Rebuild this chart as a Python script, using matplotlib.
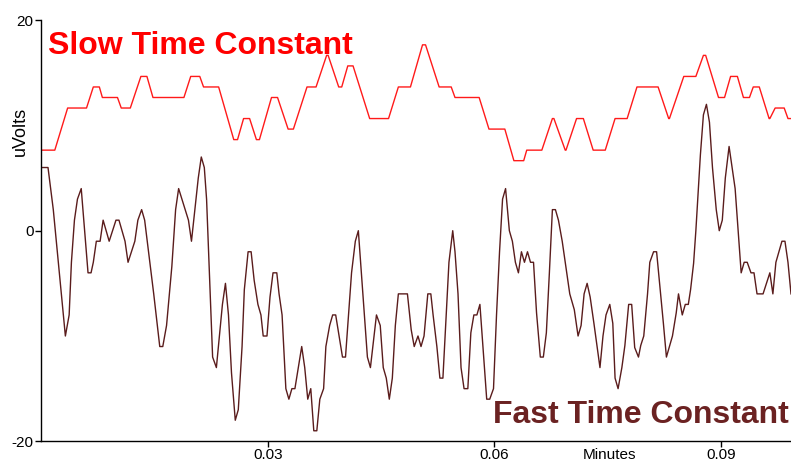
import matplotlib
matplotlib.use("Agg")
import matplotlib.pyplot as plt

# slow time constant trace (vertices)
slow_t = [0.0000, 0.0018, 0.0035, 0.0060, 0.0069, 0.0077, 0.0081, 0.0101, 0.0106, 0.0118,
          0.0132, 0.0140, 0.0148, 0.0189, 0.0198, 0.0210, 0.0215, 0.0235, 0.0255, 0.0260,
          0.0268, 0.0276, 0.0285, 0.0289, 0.0305, 0.0313, 0.0327, 0.0334, 0.0352, 0.0364,
          0.0378, 0.0380, 0.0394, 0.0398, 0.0406, 0.0413, 0.0435, 0.0460, 0.0473, 0.0489,
          0.0505, 0.0509, 0.0527, 0.0543, 0.0548, 0.0580, 0.0593, 0.0614, 0.0626, 0.0639,
          0.0643, 0.0663, 0.0677, 0.0679, 0.0694, 0.0695, 0.0709, 0.0718, 0.0731, 0.0747,
          0.0760, 0.0776, 0.0789, 0.0817, 0.0831, 0.0832, 0.0851, 0.0867, 0.0877, 0.0880,
          0.0897, 0.0905, 0.0913, 0.0922, 0.0930, 0.0938, 0.0943, 0.0951, 0.0964, 0.0965,
          0.0972, 0.0984, 0.0989, 0.0993]
slow_v = [7.65, 7.65, 11.65, 11.65, 13.65, 13.65, 12.65, 12.65, 11.65, 11.65,
          14.65, 14.65, 12.65, 12.65, 14.65, 14.65, 13.65, 13.65, 8.65, 8.65,
          10.65, 10.65, 8.65, 8.65, 12.65, 12.65, 9.65, 9.65, 13.65, 13.65,
          16.65, 16.65, 13.65, 13.65, 15.65, 15.65, 10.65, 10.65, 13.65, 13.65,
          17.65, 17.65, 13.65, 13.65, 12.65, 12.65, 9.65, 9.65, 6.65, 6.65,
          7.65, 7.65, 10.65, 10.65, 7.65, 7.65, 10.65, 10.65, 7.65, 7.65,
          10.65, 10.65, 13.65, 13.65, 10.65, 10.65, 14.65, 14.65, 16.65, 16.65,
          12.65, 12.65, 14.65, 14.65, 12.65, 12.65, 13.65, 13.65, 10.65, 10.65,
          11.65, 11.65, 10.65, 10.65]

# fast time constant trace
fast_t = [0.0002, 0.0009, 0.0016, 0.0032, 0.0037, 0.0040, 0.0044, 0.0048, 0.0053, 0.0062,
          0.0066, 0.0069, 0.0073, 0.0078, 0.0082, 0.0090, 0.0099, 0.0103, 0.0111, 0.0115,
          0.0124, 0.0128, 0.0133, 0.0137, 0.0149, 0.0157, 0.0161, 0.0166, 0.0173, 0.0178,
          0.0182, 0.0195, 0.0199, 0.0202, 0.0208, 0.0212, 0.0216, 0.0219, 0.0227, 0.0232,
          0.0236, 0.0240, 0.0244, 0.0248, 0.0252, 0.0257, 0.0261, 0.0266, 0.0269, 0.0274,
          0.0278, 0.0282, 0.0287, 0.0291, 0.0294, 0.0299, 0.0303, 0.0307, 0.0312, 0.0315,
          0.0319, 0.0324, 0.0328, 0.0332, 0.0336, 0.0345, 0.0349, 0.0353, 0.0357, 0.0361,
          0.0365, 0.0369, 0.0374, 0.0377, 0.0382, 0.0386, 0.0390, 0.0399, 0.0403, 0.0411,
          0.0416, 0.0420, 0.0428, 0.0432, 0.0436, 0.0444, 0.0449, 0.0453, 0.0457, 0.0461,
          0.0465, 0.0469, 0.0473, 0.0485, 0.0490, 0.0494, 0.0499, 0.0503, 0.0507, 0.0512,
          0.0516, 0.0519, 0.0524, 0.0528, 0.0532, 0.0540, 0.0545, 0.0548, 0.0552, 0.0556,
          0.0560, 0.0565, 0.0569, 0.0573, 0.0577, 0.0581, 0.0590, 0.0594, 0.0599, 0.0603,
          0.0607, 0.0611, 0.0615, 0.0620, 0.0624, 0.0628, 0.0632, 0.0636, 0.0640, 0.0644,
          0.0648, 0.0652, 0.0656, 0.0661, 0.0665, 0.0669, 0.0673, 0.0677, 0.0681, 0.0685,
          0.0690, 0.0694, 0.0698, 0.0700, 0.0706, 0.0711, 0.0715, 0.0719, 0.0723, 0.0727,
          0.0732, 0.0740, 0.0744, 0.0748, 0.0753, 0.0757, 0.0760, 0.0764, 0.0769, 0.0773,
          0.0778, 0.0782, 0.0786, 0.0791, 0.0794, 0.0798, 0.0803, 0.0806, 0.0811, 0.0815,
          0.0819, 0.0824, 0.0828, 0.0832, 0.0836, 0.0841, 0.0844, 0.0849, 0.0853, 0.0857,
          0.0860, 0.0864, 0.0867, 0.0873, 0.0877, 0.0881, 0.0885, 0.0889, 0.0894, 0.0898,
          0.0902, 0.0906, 0.0911, 0.0915, 0.0919, 0.0923, 0.0927, 0.0931, 0.0935, 0.0940,
          0.0944, 0.0948, 0.0956, 0.0965, 0.0969, 0.0973, 0.0977, 0.0981, 0.0985, 0.0989,
          0.0993]
fast_v = [6, 6, 2, -10, -8, -3, 1, 3, 4, -4,
          -4, -3, -1, -1, 1, -1, 1, 1, -1, -3,
          -1, 1, 2, 1, -6, -11, -11, -9, -3.4, 2,
          4, 1, -1, 1, 5, 7, 6, 3, -12, -13,
          -10, -7, -5, -8, -13.5, -18, -17, -11, -5.6, -2,
          -2, -4.7, -7, -8, -10, -10, -6.3, -4, -4, -6,
          -8, -15, -16, -15, -15, -11, -13, -16, -15, -19,
          -19, -16, -15, -11, -9, -8, -8, -12, -12, -4,
          -1, 0, -8, -12, -13, -8, -9, -13, -14, -16,
          -14, -9, -6, -6, -9.4, -11, -10, -11, -10, -6,
          -6, -8, -11, -14, -14, -3, 0, -2, -6, -13,
          -15, -15, -9.7, -8, -8, -7, -16, -16, -15, -8,
          -2, 3, 4, 0, -1, -3, -4, -2, -3, -2,
          -3, -3, -7.8, -12, -12, -9.7, -4, 2, 2, 1,
          -1, -3, -5, -6, -7.5, -10, -9, -6, -5, -6.3,
          -8.8, -13, -10, -8, -7, -8.8, -14, -15, -13, -10.9,
          -7, -7, -11.1, -12, -10.9, -10, -6, -3, -2, -2,
          -5, -8.8, -12, -11, -10, -7.8, -6, -8, -7, -7,
          -5.6, -3.1, 0, 7.2, 11, 12, 10.3, 6, 2, 0,
          1, 5, 8, 6, 4, 0, -4, -3, -3, -4,
          -4, -6, -6, -4, -6, -3, -2, -1, -1, -3,
          -6]

x_ticks = [0.03, 0.06, 0.09]
x_ticklabels = ["0.03", "0.06", "0.09"]
y_ticks = [-20, 0, 20]

plt.rcParams['font.family'] = ['Liberation Sans', 'DejaVu Sans']
plt.rcParams['axes.unicode_minus'] = False

fig = plt.figure(figsize=(7.91, 4.62), dpi=100)
ax = fig.add_axes([0.0521, 0.0448, 0.9479, 0.9117])

ax.plot(slow_t, slow_v, color='#ff1a1a', linewidth=1.0)
ax.plot(fast_t, fast_v, color='#5a1c1c', linewidth=1.0)

ax.set_xlim(0, 0.0993)
ax.set_ylim(-20, 20)
ax.set_xticks(x_ticks)
ax.set_xticklabels(x_ticklabels)
ax.set_yticks(y_ticks)
ax.tick_params(axis='both', labelsize=11, length=4, width=1, colors='black')
ax.tick_params(axis='x', pad=0.5)
ax.tick_params(axis='y', pad=1.5)

for side in ['top', 'right']:
    ax.spines[side].set_visible(False)
for side in ['left', 'bottom']:
    ax.spines[side].set_linewidth(1.0)

ax.set_ylabel('uVolts', fontsize=13)
ax.yaxis.set_label_coords(-0.0165, 0.735)

# axis title sits on the tick label row
ax.annotate('Minutes', xy=(0.0753, -20), xytext=(0, -4.5), textcoords='offset points',
            ha='center', va='top', fontsize=11, annotation_clip=False)

ax.text(0.0009, 19.0, 'Slow Time Constant', color='#ff0000', fontsize=23,
        fontweight='bold', ha='left', va='top')
ax.text(0.0990, -18.25, 'Fast Time Constant', color='#6b2222', fontsize=23,
        fontweight='bold', ha='right', va='baseline')

fig.savefig('out.png', dpi=100)
